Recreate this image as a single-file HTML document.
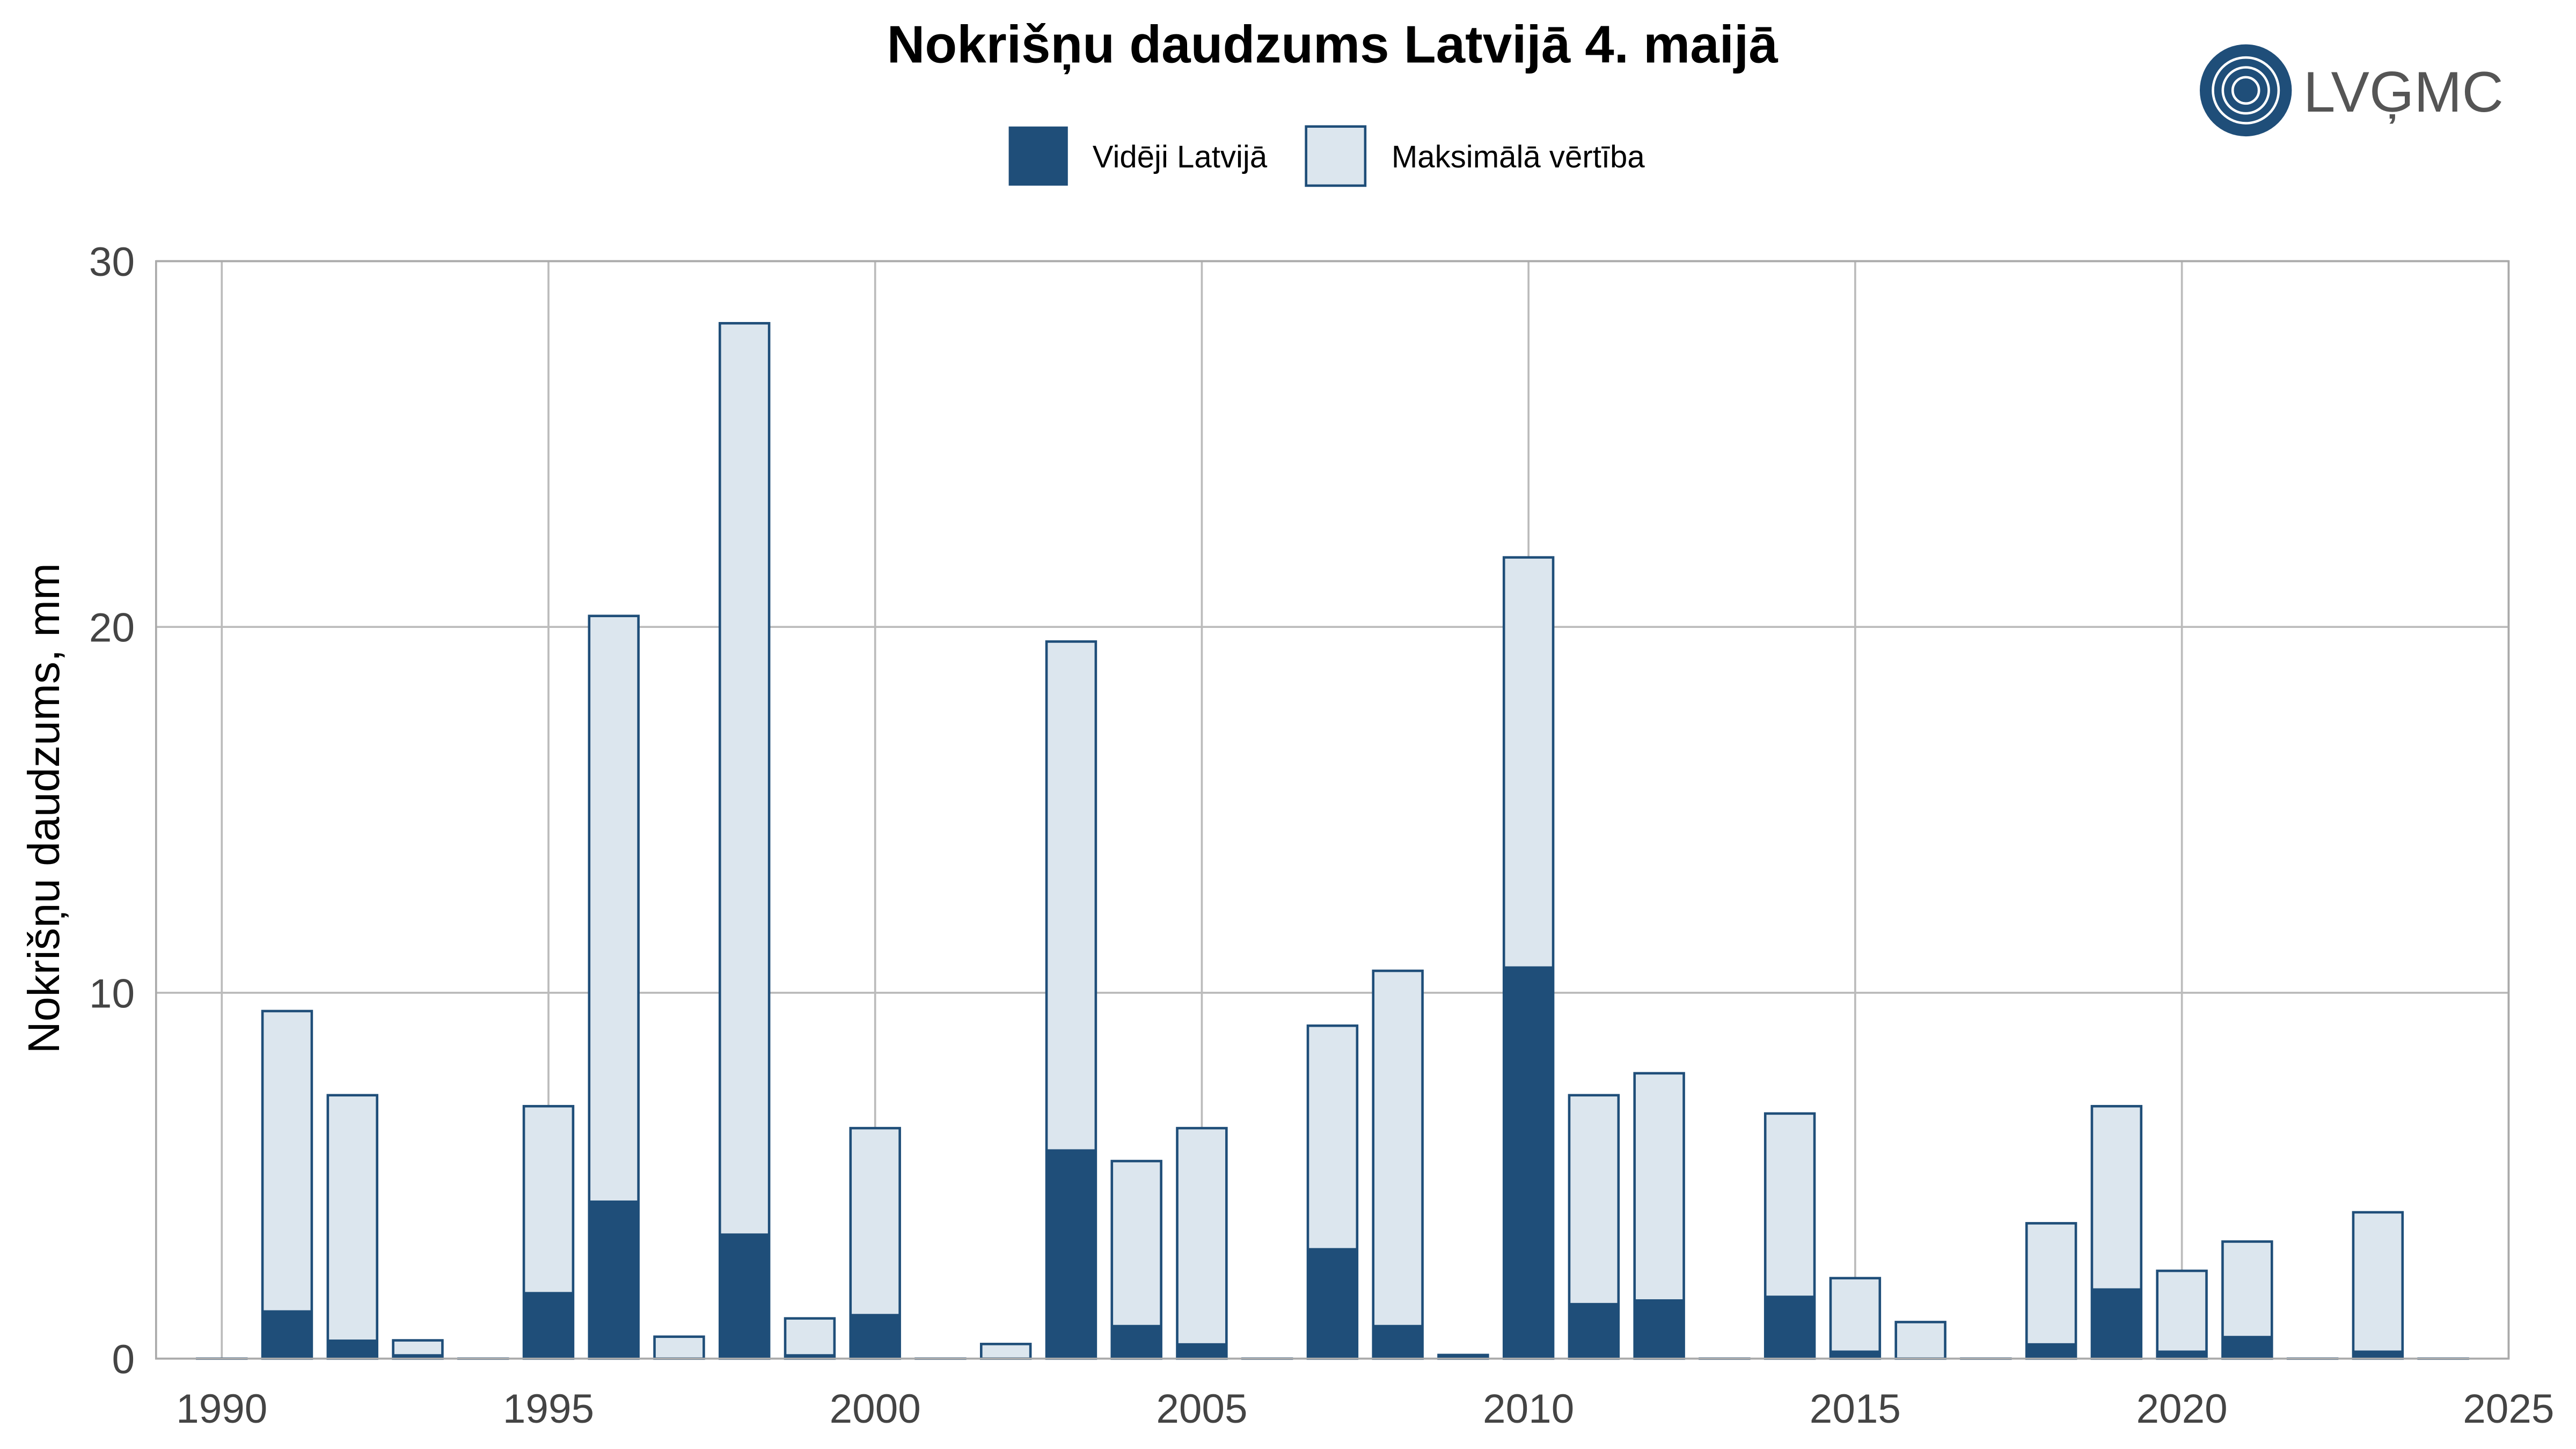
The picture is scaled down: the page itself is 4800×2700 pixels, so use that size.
<!DOCTYPE html>
<html><head><meta charset="utf-8"><style>
html,body{margin:0;padding:0;background:#fff;}
svg{display:block;font-family:"Liberation Sans",sans-serif;}
</style></head><body>
<svg id="chart" width="4800" height="2700" viewBox="0 0 1568 882" preserveAspectRatio="none" xmlns="http://www.w3.org/2000/svg">
<rect width="1568" height="882" fill="#fff"/>
<text x="811" y="38" text-anchor="middle" font-size="32" font-weight="bold" fill="#000">Nokrišņu daudzums Latvijā 4. maijā</text>
<g>
<circle cx="1367" cy="55" r="28" fill="#1f4e79"/>
<circle cx="1367" cy="55" r="20" fill="none" stroke="#fff" stroke-width="1.5"/>
<circle cx="1367" cy="55" r="14" fill="none" stroke="#fff" stroke-width="1.5"/>
<circle cx="1367" cy="55" r="8" fill="none" stroke="#fff" stroke-width="1.5"/>
<text x="1402" y="68" font-size="35" fill="#555">LVĢMC</text>
</g>
<g>
<rect x="614" y="77" width="36" height="36" fill="#1f4e79"/>
<text x="665" y="102" font-size="19">Vidēji Latvijā</text>
<rect x="795" y="77" width="36" height="36" fill="#dce6ee" stroke="#1f4e79" stroke-width="1.5"/>
<text x="847" y="102" font-size="19">Maksimālā vērtība</text>
</g>
<g id="grid"></g>
<g id="bars"></g>
<rect x="95" y="159" width="1432" height="668" fill="none" stroke="#aaa" stroke-width="1.2"/>
<g id="ticks"></g>
<text transform="translate(36,492) rotate(-90)" text-anchor="middle" font-size="27" fill="#000">Nokrišņu daudzums, mm</text>
</svg>
<script>
const years=[1990,1991,1992,1993,1994,1995,1996,1997,1998,1999,2000,2001,2002,2003,2004,2005,2006,2007,2008,2009,2010,2011,2012,2013,2014,2015,2016,2017,2018,2019,2020,2021,2022,2023,2024];
const maxVals=[0,9.5,7.2,0.5,0,6.9,20.3,0.6,28.3,1.1,6.3,0,0.4,19.6,5.4,6.3,0,9.1,10.6,0.1,21.9,7.2,7.8,0,6.7,2.2,1.0,0,3.7,6.9,2.4,3.2,0,4.0,0];
const avgVals=[0,1.3,0.5,0.1,0,1.8,4.3,0,3.4,0.1,1.2,0,0,5.7,0.9,0.4,0,3.0,0.9,0.1,10.7,1.5,1.6,0,1.7,0.2,0,0,0.4,1.9,0.2,0.6,0,0.2,0];
const xTicks=[1990,1995,2000,2005,2010,2015,2020,2025];
const yTicks=[0,10,20,30];
const NS="http://www.w3.org/2000/svg";
const x=v=>135+(v-1990)*39.77;
const y=v=>827-v*22.27;
const grid=document.getElementById('grid'),bars=document.getElementById('bars'),ticks=document.getElementById('ticks');
function mk(tag,attrs,parent){const e=document.createElementNS(NS,tag);for(const k in attrs)e.setAttribute(k,attrs[k]);parent.appendChild(e);return e;}
xTicks.forEach(t=>{
 const l=mk('line',{x1:x(t),x2:x(t),y1:159,y2:827,stroke:'#bbb','stroke-width':1.2},grid);
 
 
 const tx=mk('text',{x:x(t),y:866,'text-anchor':'middle','font-size':25,fill:'#444'},ticks);
 tx.textContent=t;
 
 
});
yTicks.forEach(t=>{
 const l=mk('line',{x1:95,x2:1527,y1:y(t),y2:y(t),stroke:'#bbb','stroke-width':1.2},grid);
 
 
 const tx=mk('text',{x:82,y:y(t)+9,'text-anchor':'end','font-size':25,fill:'#444'},ticks);
 tx.textContent=t;
 
 
});
const bw=30;
years.forEach((yr,i)=>{
 const cx=x(yr);
 const m=mk('rect',{x:cx-bw/2,y:y(maxVals[i]),width:bw,height:Math.max(0.001,y(0)-y(maxVals[i])),fill:'#dce6ee',stroke:'#1f4e79','stroke-width':1.5},bars);
 
 
 if(avgVals[i]>0){
  const a=mk('rect',{x:cx-bw/2,y:y(avgVals[i]),width:bw,height:y(0)-y(avgVals[i]),fill:'#1f4e79',stroke:'#1f4e79','stroke-width':1},bars);
  
  
 }
});
</script>
</body></html>
